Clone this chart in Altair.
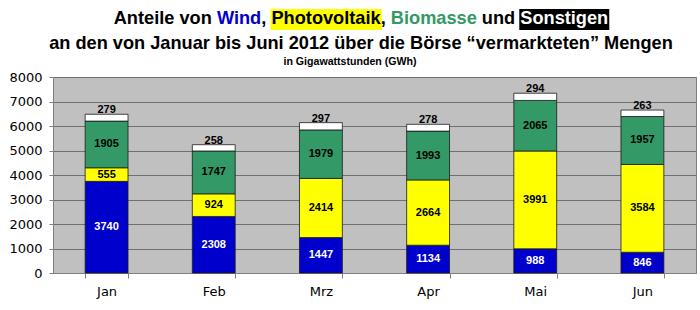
import altair as alt
import pandas as pd

# ---------------- data ----------------
months = ["Jan", "Feb", "Mrz", "Apr", "Mai", "Jun"]
wind = [3740, 2308, 1447, 1134, 988, 846]
pv = [555, 924, 2414, 2664, 3991, 3584]
bio = [1905, 1747, 1979, 1993, 2065, 1957]
sonst = [279, 258, 297, 278, 294, 263]
series = ["Wind", "Photovoltaik", "Biomasse", "Sonstige"]
colors = ["#0000cc", "#ffff00", "#339966", "#ffffff"]
label_colors = ["#ffffff", "#000000", "#000000", "#000000"]
y_ticks = [0, 1000, 2000, 3000, 4000, 5000, 6000, 7000, 8000]

rows = []
for si, (name, vals) in enumerate(zip(series, [wind, pv, bio, sonst])):
    for m, v in zip(months, vals):
        rows.append(dict(month=m, series=name, value=v, order=si,
                         lc=label_colors[si]))
df = pd.DataFrame(rows)

W, H = 643, 196
FONT_T = "Liberation Sans"
FONT_A = "DejaVu Sans"

base = alt.Chart(df).transform_stack(
    stack="value", groupby=["month"], as_=["y0", "y1"],
    sort=[alt.SortField("order", order="ascending")]
).transform_calculate(mid="(datum.y0 + datum.y1) / 2")

xscale = alt.Scale(paddingInner=0.6, paddingOuter=0.3)
xaxis = alt.Axis(title=None, labelAngle=0, tickBand="extent",
                 grid=False, tickSize=5, labelPadding=7,
                 labelFont=FONT_A, labelFontSize=13,
                 labelColor="#000000", domainColor="#808080",
                 tickColor="#808080")
yscale = alt.Scale(domain=[0, 8000], nice=False)
yaxis = alt.Axis(title=None, values=y_ticks, tickCount=len(y_ticks) + 1,
                 format="d", labelOverlap=False, tickSize=4,
                 labelPadding=7, labelFont=FONT_A, labelFontSize=13,
                 labelColor="#000000", domainColor="#808080",
                 tickColor="#808080", gridColor="#707070", gridWidth=1)

bars = base.mark_bar(stroke="#1a1a1a", strokeWidth=0.8).encode(
    x=alt.X("month:N", sort=months, scale=xscale, axis=xaxis),
    y=alt.Y("y0:Q", scale=yscale, axis=yaxis),
    y2="y1:Q",
    color=alt.Color("series:N", scale=alt.Scale(domain=series, range=colors),
                    legend=None),
)

inner_labels = base.transform_filter("datum.series != 'Sonstige'").mark_text(
    font=FONT_T, fontWeight="bold", fontSize=11, baseline="middle"
).encode(
    x=alt.X("month:N", sort=months, scale=xscale, axis=xaxis),
    y=alt.Y("mid:Q", scale=yscale, axis=yaxis),
    text="value:Q",
    color=alt.Color("lc:N", scale=None),
)

top_labels = base.transform_filter("datum.series == 'Sonstige'").mark_text(
    font=FONT_T, fontWeight="bold", fontSize=11, baseline="middle", dy=-4
).encode(
    x=alt.X("month:N", sort=months, scale=xscale, axis=xaxis),
    y=alt.Y("y1:Q", scale=yscale, axis=yaxis),
    text="value:Q",
    color=alt.value("#000000"),
)

# ---------------- title ----------------
# Arial-bold advance widths (per 1000 em) to place the coloured words
AW = {" ": 278, ",": 278, "A": 722, "B": 722, "P": 667, "S": 667, "W": 944,
      "a": 556, "d": 611, "e": 556, "g": 611, "h": 611, "i": 278, "k": 556,
      "l": 278, "m": 889, "n": 611, "o": 611, "s": 556, "t": 333, "u": 611,
      "v": 556}
TS = 18.2
segments = [("Anteile von ", "#000000", None),
            ("Wind", "#0000cc", None),
            (", ", "#000000", None),
            ("Photovoltaik", "#000000", "#ffff00"),
            (", ", "#000000", None),
            ("Biomasse", "#339966", None),
            (" und ", "#000000", None),
            ("Sonstigen", "#ffffff", "#000000")]


def tw(s):
    return sum(AW.get(c, 556) for c in s) * TS / 1000.0


total = sum(tw(s) for s, _, _ in segments)
cx = 361 - 53
x = cx - total / 2
L1 = -58
title_layers = []
for text, col, bg in segments:
    w = tw(text)
    word = text.strip()
    lead = tw(text[: len(text) - len(text.lstrip())])
    if bg:
        title_layers.append(
            alt.Chart(pd.DataFrame({"t": [word]})).mark_rect(color=bg).encode(
                x=alt.value(x + lead - 1), x2=alt.value(x + lead + tw(word) + 1),
                y=alt.value(L1 - 10), y2=alt.value(L1 + 11)))
    title_layers.append(
        alt.Chart(pd.DataFrame({"t": [word]})).mark_text(
            font=FONT_T, fontWeight="bold", fontSize=TS, align="left",
            baseline="middle").encode(
            x=alt.value(x + lead), y=alt.value(L1), text="t:N",
            color=alt.value(col)))
    x += w

line2 = alt.Chart(pd.DataFrame(
    {"t": ["an den von Januar bis Juni 2012 über die Börse \u201cvermarkteten\u201d Mengen"]}
)).mark_text(font=FONT_T, fontWeight="bold", fontSize=TS, align="center",
             baseline="middle").encode(
    x=alt.value(cx), y=alt.value(-33), text="t:N", color=alt.value("#000000"))

sub = alt.Chart(pd.DataFrame({"t": ["in Gigawattstunden (GWh)"]})).mark_text(
    font=FONT_T, fontWeight="bold", fontSize=10.6, align="center",
    baseline="middle").encode(
    x=alt.value(350 - 53), y=alt.value(-15), text="t:N",
    color=alt.value("#000000"))

chart = alt.layer(bars, inner_labels, top_labels, *title_layers, line2, sub).properties(
    width=W, height=H,
    autosize=alt.AutoSizeParams(type="none"),
    padding={"left": 53, "top": 77, "right": 4, "bottom": 37},
    background="#ffffff",
).configure_view(fill="#c0c0c0", stroke="#808080", strokeWidth=1)

chart.save("out.html", embed_options={"renderer": "svg", "actions": False})
